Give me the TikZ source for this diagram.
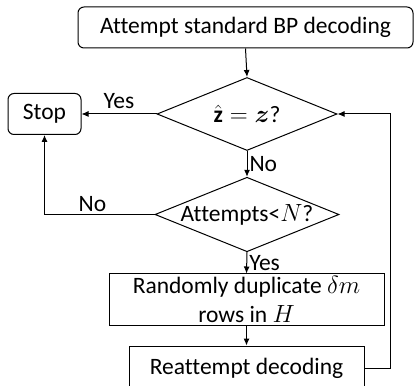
\documentclass[tikz,border=0pt]{standalone}
\usepackage{fontspec}
\usepackage{amsmath,bm}
\setmainfont[Ligatures=NoCommon]{Carlito}
\usetikzlibrary{shapes.geometric,arrows.meta}
\begin{document}
\begin{tikzpicture}[x=1pt,y=1pt,
  every node/.style={font=\fontsize{23.5}{29}\selectfont},
  rbox/.style={draw,rounded corners=6pt,line width=1pt,inner sep=0pt},
  sbox/.style={draw,line width=1pt,inner sep=0pt},
  dia/.style={draw,diamond,aspect=2.47,line width=1pt,inner sep=0pt},
  arr/.style={-{Latex[length=7pt,width=6pt]},line width=1pt},
  lbl/.style={inner sep=1pt}]
\useasboundingbox (0,0) rectangle (414,385);
\node[rbox,minimum width=335,minimum height=41] (start) at (245.5,357.5) {Attempt standard BP decoding};
\node[dia,minimum width=180,minimum height=73] (d1) at (247,271) {$\hat{\mathbf{z}}=\bm{z}$?};
\node[rbox,minimum width=73,minimum height=41] (stop) at (44.5,271) {Stop};
\node[dia,minimum width=180,minimum height=73] (d2) at (247,170.5) {Attempts<$N$?};
\node[sbox,minimum width=275,minimum height=51,align=center] (dup) at (246.5,85.5) {Randomly duplicate $\delta m$\\ rows in $H$};
\node[sbox,minimum width=235,minimum height=44] (re) at (246.5,17) {Reattempt decoding};
\coordinate (c1) at (44.5,170.5);
\coordinate (c2) at (390,17);
\coordinate (c3) at (390,271);
\draw[arr] (start.south) -- (d1.north);
\draw[arr] (d1.west) -- (stop.east) node[lbl,midway,above=4pt] {Yes};
\draw[arr] (d1.south) -- (d2.north) node[lbl,midway,right=1pt] {No};
\draw[arr] (d2.west) -- (c1) node[lbl,midway,above=1pt,xshift=-7pt] {No} -- (stop.south);
\draw[arr] (d2.south) -- (dup.north) node[lbl,midway,right=1pt] {Yes};
\draw[arr] (dup.south) -- (re.north);
\draw[arr] (re.east) -- (c2) -- (c3) -- (d1.east);
\end{tikzpicture}
\end{document}
